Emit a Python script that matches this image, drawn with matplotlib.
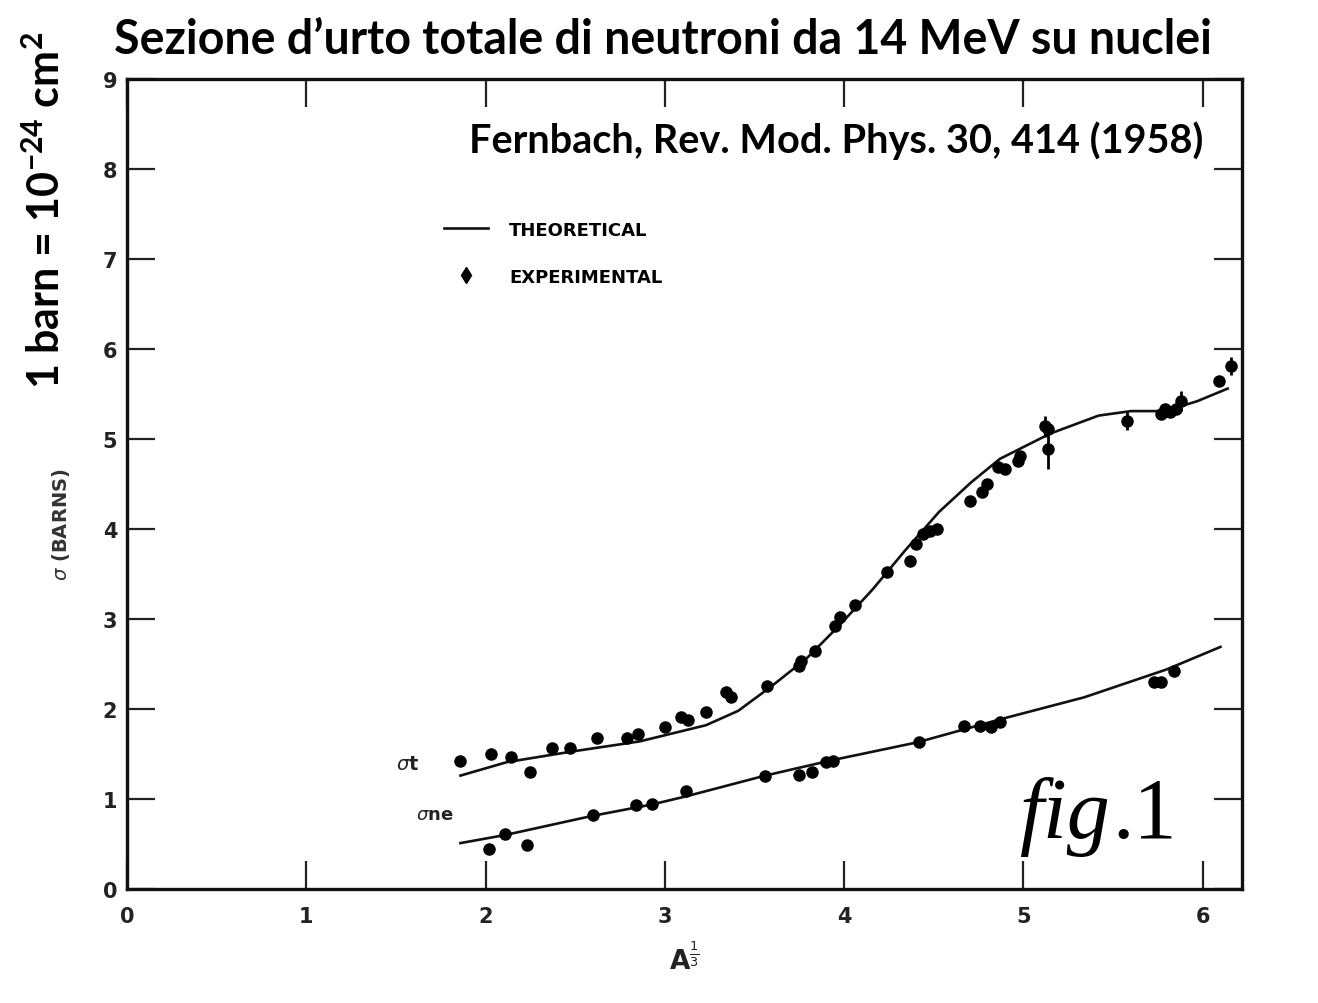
import matplotlib
matplotlib.use("Agg")
import matplotlib.pyplot as plt
from matplotlib.lines import Line2D

# theoretical curves
x_theo_t = [1.86, 2.12, 2.49, 2.86, 3.23, 3.41, 3.60, 3.79, 3.97, 4.16, 4.34, 4.53, 4.71, 4.87, 5.15, 5.42, 5.60, 5.79, 5.97, 6.14]
y_theo_t = [1.26, 1.41, 1.53, 1.64, 1.82, 1.98, 2.26, 2.56, 2.92, 3.33, 3.76, 4.19, 4.52, 4.78, 5.06, 5.26, 5.31, 5.31, 5.42, 5.56]

x_theo_ne = [1.86, 2.11, 2.59, 2.93, 3.12, 3.56, 3.93, 4.41, 4.88, 5.34, 5.80, 6.10]
y_theo_ne = [0.51, 0.60, 0.81, 0.94, 1.03, 1.26, 1.43, 1.63, 1.89, 2.13, 2.44, 2.69]

# experimental points (sigma_t)
x_exp_t = [1.86, 2.03, 2.14, 2.25, 2.37, 2.47, 2.62, 2.79, 2.85, 3.00, 3.09, 3.13, 3.23, 3.34, 3.37,
	3.57, 3.75, 3.76, 3.84, 3.95, 3.98, 4.06, 4.24, 4.37, 4.40, 4.44, 4.48, 4.52, 4.70, 4.77, 4.80,
	4.86, 4.90, 4.97, 4.98, 5.12, 5.14, 5.14, 5.58, 5.77, 5.79, 5.82, 5.85, 5.88, 6.09, 6.16]
y_exp_t = [1.42, 1.50, 1.47, 1.30, 1.57, 1.57, 1.68, 1.68, 1.72, 1.80, 1.91, 1.88, 1.97, 2.19, 2.13,
	2.26, 2.48, 2.53, 2.64, 2.92, 3.02, 3.16, 3.52, 3.64, 3.83, 3.94, 3.98, 4.00, 4.31, 4.41, 4.50,
	4.69, 4.67, 4.76, 4.81, 5.14, 5.11, 4.89, 5.20, 5.28, 5.33, 5.30, 5.33, 5.42, 5.64, 5.81]
yerr_t = [0, 0, 0, 0, 0, 0, 0, 0, 0, 0, 0, 0, 0, 0, 0,
	0, 0, 0, 0, 0, 0, 0, 0, 0, 0, 0, 0, 0, 0, 0, 0,
	0, 0, 0, 0, 0.12, 0, 0.22, 0.10, 0, 0, 0, 0, 0.11, 0, 0.10]

# experimental points (sigma_ne)
x_exp_ne = [2.02, 2.11, 2.23, 2.60, 2.84, 2.93, 3.12, 3.56, 3.75, 3.82, 3.90, 3.94,
	4.42, 4.67, 4.76, 4.82, 4.87, 5.73, 5.77, 5.84]
y_exp_ne = [0.44, 0.61, 0.49, 0.82, 0.93, 0.94, 1.09, 1.26, 1.27, 1.30, 1.41, 1.42,
	1.63, 1.81, 1.81, 1.80, 1.86, 2.30, 2.30, 2.42]

x_ticks = [0, 1, 2, 3, 4, 5, 6]
y_ticks = [0, 1, 2, 3, 4, 5, 6, 7, 8, 9]

W, H = 1318, 1004


def draw_plot():
	""" Draws the scanned chart """
	fig = plt.figure(figsize=(W / 100, H / 100), dpi=100)
	ax = fig.add_axes([127 / W, 1 - 890 / H, (1242 - 127) / W, (890 - 80) / H])

	ax.plot(x_theo_t, y_theo_t, color='#111111', lw=1.9)
	ax.plot(x_theo_ne, y_theo_ne, color='#111111', lw=1.9)
	ax.errorbar(x_exp_t, y_exp_t, yerr=yerr_t, fmt='o', color='black', ms=8,
				elinewidth=2, capsize=0)
	ax.plot(x_exp_ne, y_exp_ne, 'o', color='black', ms=8)

	ax.set_xlim(0, 6.22)
	ax.set_ylim(0, 9)
	ax.set_xticks(x_ticks)
	ax.set_yticks(y_ticks)
	ax.tick_params(direction='in', length=20, width=1.6, top=True, right=True,
				   labelsize=15, pad=12, colors='#222222')
	for lab in ax.get_xticklabels() + ax.get_yticklabels():
		lab.set_fontweight('bold')
	ax.tick_params(axis='y', pad=7)
	for s in ax.spines.values():
		s.set_linewidth(2.4)
		s.set_color('#111111')

	ax.set_xlabel(r'A$^{\frac{1}{3}}$', fontsize=19, fontweight='bold', labelpad=12, color='#222222')

	handles = [Line2D([], [], color='#111111', lw=1.9),
			   Line2D([], [], marker='d', ls='none', color='black', ms=8)]
	ax.legend(handles, ['THEORETICAL', 'EXPERIMENTAL'], loc='upper left',
			  bbox_to_anchor=(0.27, 0.845), frameon=False, handlelength=2.4,
			  handletextpad=1.2, labelspacing=1.6,
			  prop={'weight': 'bold', 'size': 13})

	ax.text(1.50, 1.33, r'$\sigma$t', fontsize=14, fontweight='bold', color='#222222')
	ax.text(1.61, 0.78, r'$\sigma$ne', fontsize=13, fontweight='bold', color='#222222')

	ax.text(0.965, 0.925, 'Fernbach, Rev. Mod. Phys. 30, 414 (1958)', transform=ax.transAxes,
			ha='right', va='center', fontsize=28.5, fontweight='bold', family='Lato')
	t = ax.text(0.80, 0.064, 'fig', transform=ax.transAxes, fontsize=62, style='italic',
				family='Liberation Serif', ha='left', va='baseline')
	fig.canvas.draw()
	bb = t.get_window_extent().transformed(ax.transAxes.inverted())
	ax.text(bb.x1 + 0.002, 0.064, '.1', transform=ax.transAxes, fontsize=62,
			family='Liberation Serif', ha='left', va='baseline')

	fig.text(0.503, 0.96, 'Sezione d\u2019urto totale di neutroni da 14 MeV su nuclei',
			 ha='center', va='center', fontsize=33.5, fontweight='bold', family='Lato')
	fig.text(0.035, 0.79, r'1 barn = 10$^{\mathregular{-24}}$ cm$^{\mathregular{2}}$', rotation=90,
			 ha='center', va='center', fontsize=31, fontweight='bold', family='Lato')
	fig.text(0.046, 0.477, r'$\sigma$ (BARNS)', rotation=90, ha='center', va='center',
			 fontsize=14, fontweight='bold', color='#333333')

	fig.savefig('out.png', dpi=100)


if __name__ == "__main__":
	draw_plot()
